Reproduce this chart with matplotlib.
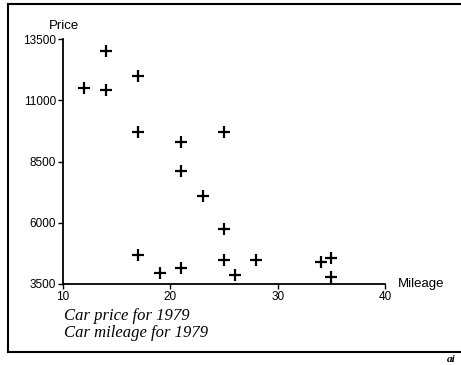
import matplotlib
matplotlib.use("Agg")
import matplotlib.pyplot as plt
from matplotlib.lines import Line2D

mileage = [12, 14, 14, 17, 17, 21, 21, 25, 23, 25, 17, 19, 21, 25, 26, 28, 34, 35, 35]
price = [11500, 13000, 11400, 12000, 9700, 9300, 8100, 9700, 7100, 5750,
         4700, 3950, 4150, 4500, 3850, 4500, 4400, 4550, 3775]
xticks = [10, 20, 30, 40]
yticks = [3500, 6000, 8500, 11000, 13500]
caption = ["Car price for 1979", "Car mileage for 1979"]

W, H = 461, 365
fig = plt.figure(figsize=(W / 100, H / 100), dpi=100)
fig.patch.set_facecolor("white")

def fx(px):
    return px / W

def fy(py):
    return 1 - py / H

ax = fig.add_axes([fx(63), fy(284), fx(385) - fx(63), fy(39) - fy(284)])
ax.plot(mileage, price, linestyle="none", marker="+", color="black",
        markersize=9, markeredgewidth=1.6, clip_on=False)
ax.set_xlim(10, 40)
ax.set_ylim(3500, 13500)
ax.set_xticks(xticks)
ax.set_yticks(yticks)
for s in ["top", "right"]:
    ax.spines[s].set_visible(False)
for s in ["left", "bottom"]:
    ax.spines[s].set_linewidth(1.3)
ax.tick_params(direction="out", length=3.5, width=1.0, pad=1.5,
               labelsize=8.5, colors="black")
for lab in ax.get_xticklabels() + ax.get_yticklabels():
    lab.set_fontfamily("Liberation Sans")

fig.text(fx(64), fy(26), "Price", ha="center", va="center",
         fontsize=9.5, family="Liberation Sans")
fig.text(fx(398), fy(284), "Mileage", ha="left", va="center",
         fontsize=9.5, family="Liberation Sans")
fig.text(fx(64), fy(316), caption[0], ha="left", va="center",
         fontsize=12, style="italic", family="Liberation Serif")
fig.text(fx(64), fy(333), caption[1], ha="left", va="center",
         fontsize=12, style="italic", family="Liberation Serif")
fig.text(fx(447), fy(359), "ai", ha="left", va="center", fontsize=8,
         style="italic", weight="bold", family="Liberation Serif")

lw = 1.5
fig.add_artist(Line2D([fx(8), fx(8)], [fy(4), fy(352)], color="black",
                      lw=lw, transform=fig.transFigure))
fig.add_artist(Line2D([fx(8), 1.0], [fy(4), fy(4)], color="black",
                      lw=lw, transform=fig.transFigure))
fig.add_artist(Line2D([fx(8), 1.0], [fy(352), fy(352)], color="black",
                      lw=lw, transform=fig.transFigure))

fig.savefig("out.png", dpi=100)
